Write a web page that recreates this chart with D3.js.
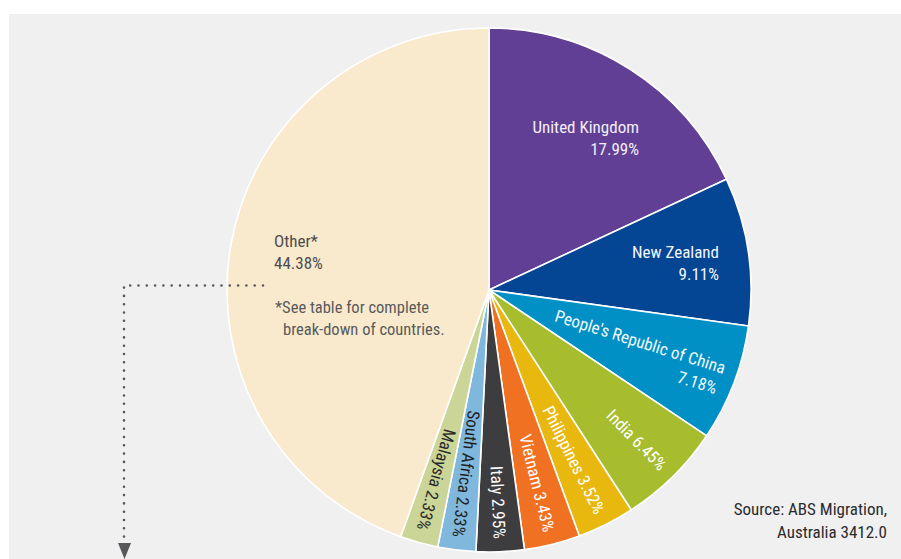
<!DOCTYPE html>
<html><head><meta charset="utf-8">
<script src="https://cdn.jsdelivr.net/npm/d3@7"></script>
<style>
html,body{margin:0;padding:0;background:#fff;}
svg{display:block;}
text{font-family:"Liberation Sans Narrow","Arial Narrow","Roboto Condensed","Liberation Sans",sans-serif;}
</style></head>
<body><svg id="chart" width="901" height="559"></svg>
<script>
// ---- data ----
const categories = ["United Kingdom","New Zealand","People's Republic of China","India","Philippines","Vietnam","Italy","South Africa","Malaysia","Other*"];
const shares = [17.99, 9.11, 7.18, 6.45, 3.52, 3.43, 2.95, 2.33, 2.33, 44.38];
const sliceColors = ["#603f95","#044594","#0090c5","#a7bd2e","#e9b80f","#f07122","#3d3d40","#80b8dd","#cbd597","#f9eacd"];
const labelColors = ["#f3eef8","#f3f6fb","#f3f8fb","#ffffff","#ffffff","#ffffff","#ffffff","#1f1f22","#2a2a2a","#4d4d4f"];
const footnote = ["*See table for complete","break-down of countries."];
const sourceLines = ["Source: ABS Migration,","Australia 3412.0"];

// ---- layout ----
const W = 901, H = 559;
const cx = 489, cy = 290, R = 262;
const svg = d3.select("#chart");
svg.append("rect").attr("x",9).attr("y",14).attr("width",W-9).attr("height",H-14).attr("fill","#f0f0f0");

const data = categories.map((c,i)=>({name:c, value:shares[i], color:sliceColors[i], tcolor:labelColors[i], i}));
const pie = d3.pie().sort(null).value(d=>d.value).startAngle(0).endAngle(2*Math.PI);
const arcs = pie(data);
const arc = d3.arc().innerRadius(0).outerRadius(R);
const fmt = v => d3.format(".2f")(v)+"%";

const g = svg.append("g").attr("transform",`translate(${cx},${cy})`);

// connector (dotted) from Other slice
const dotted = svg.append("g");
dotted.append("path")
  .attr("d", `M${cx-R+36},${cy-4.5} H${cx-365} V${cy+255}`)
  .attr("fill","none").attr("stroke","#58585a").attr("stroke-width",2.6)
  .attr("stroke-linecap","round").attr("stroke-dasharray","0 8.3");
dotted.append("path")
  .attr("d", `M${cx-371},${cy+253} L${cx-358},${cy+253} L${cx-364.5},${cy+269} Z`)
  .attr("fill","#58585a");

g.selectAll("path.slice").data(arcs).enter().append("path")
  .attr("class","slice")
  .attr("d",arc)
  .attr("fill",d=>d.data.color)
  .attr("stroke","#ffffff").attr("stroke-width",1.6).attr("stroke-linejoin","round");

const FS = 17;
// horizontal labels (UK, NZ, Other)
const horiz = {
  0: {x:150, y:-157, anchor:"end"},
  1: {x:230, y:-32, anchor:"end"},
  9: {x:-215, y:-43, anchor:"start"}
};
arcs.forEach(a=>{
  const i = a.data.i;
  if (horiz[i]) {
    const h = horiz[i];
    const t = g.append("text").attr("text-anchor",h.anchor).attr("fill",a.data.tcolor).attr("font-size",FS);
    t.append("tspan").attr("x",h.x).attr("y",h.y).text(a.data.name);
    t.append("tspan").attr("x",h.x).attr("y",h.y+22).text(fmt(a.data.value));
  } else {
    const mid = (a.startAngle + a.endAngle)/2;
    let rot = mid*180/Math.PI - 90;
    if (i===2) rot -= 3.5;
    const rr = 249;
    const px = rr*Math.sin(mid), py = -rr*Math.cos(mid);
    const t = g.append("text").attr("text-anchor","end").attr("fill",a.data.tcolor).attr("font-size",FS)
      .attr("transform",`translate(${px},${py}) rotate(${rot})`);
    if (i===2) {
      t.append("tspan").attr("x",0).attr("y",-5).text(a.data.name);
      t.append("tspan").attr("x",-2).attr("y",17).text(fmt(a.data.value));
    } else {
      t.append("tspan").attr("x",0).attr("y",6).text(a.data.name+" "+fmt(a.data.value));
    }
  }
});

// footnote
const fn = g.append("text").attr("fill","#5a5a5c").attr("font-size",FS-0.5);
fn.append("tspan").attr("x",-214).attr("y",23).text(footnote[0]);
fn.append("tspan").attr("x",-206).attr("y",45).text(footnote[1]);

// source
const src = svg.append("text").attr("text-anchor","end").attr("fill","#2b2b2d").attr("font-size",FS);
src.append("tspan").attr("x",887).attr("y",515).text(sourceLines[0]);
src.append("tspan").attr("x",887).attr("y",538).text(sourceLines[1]);
</script></body></html>
